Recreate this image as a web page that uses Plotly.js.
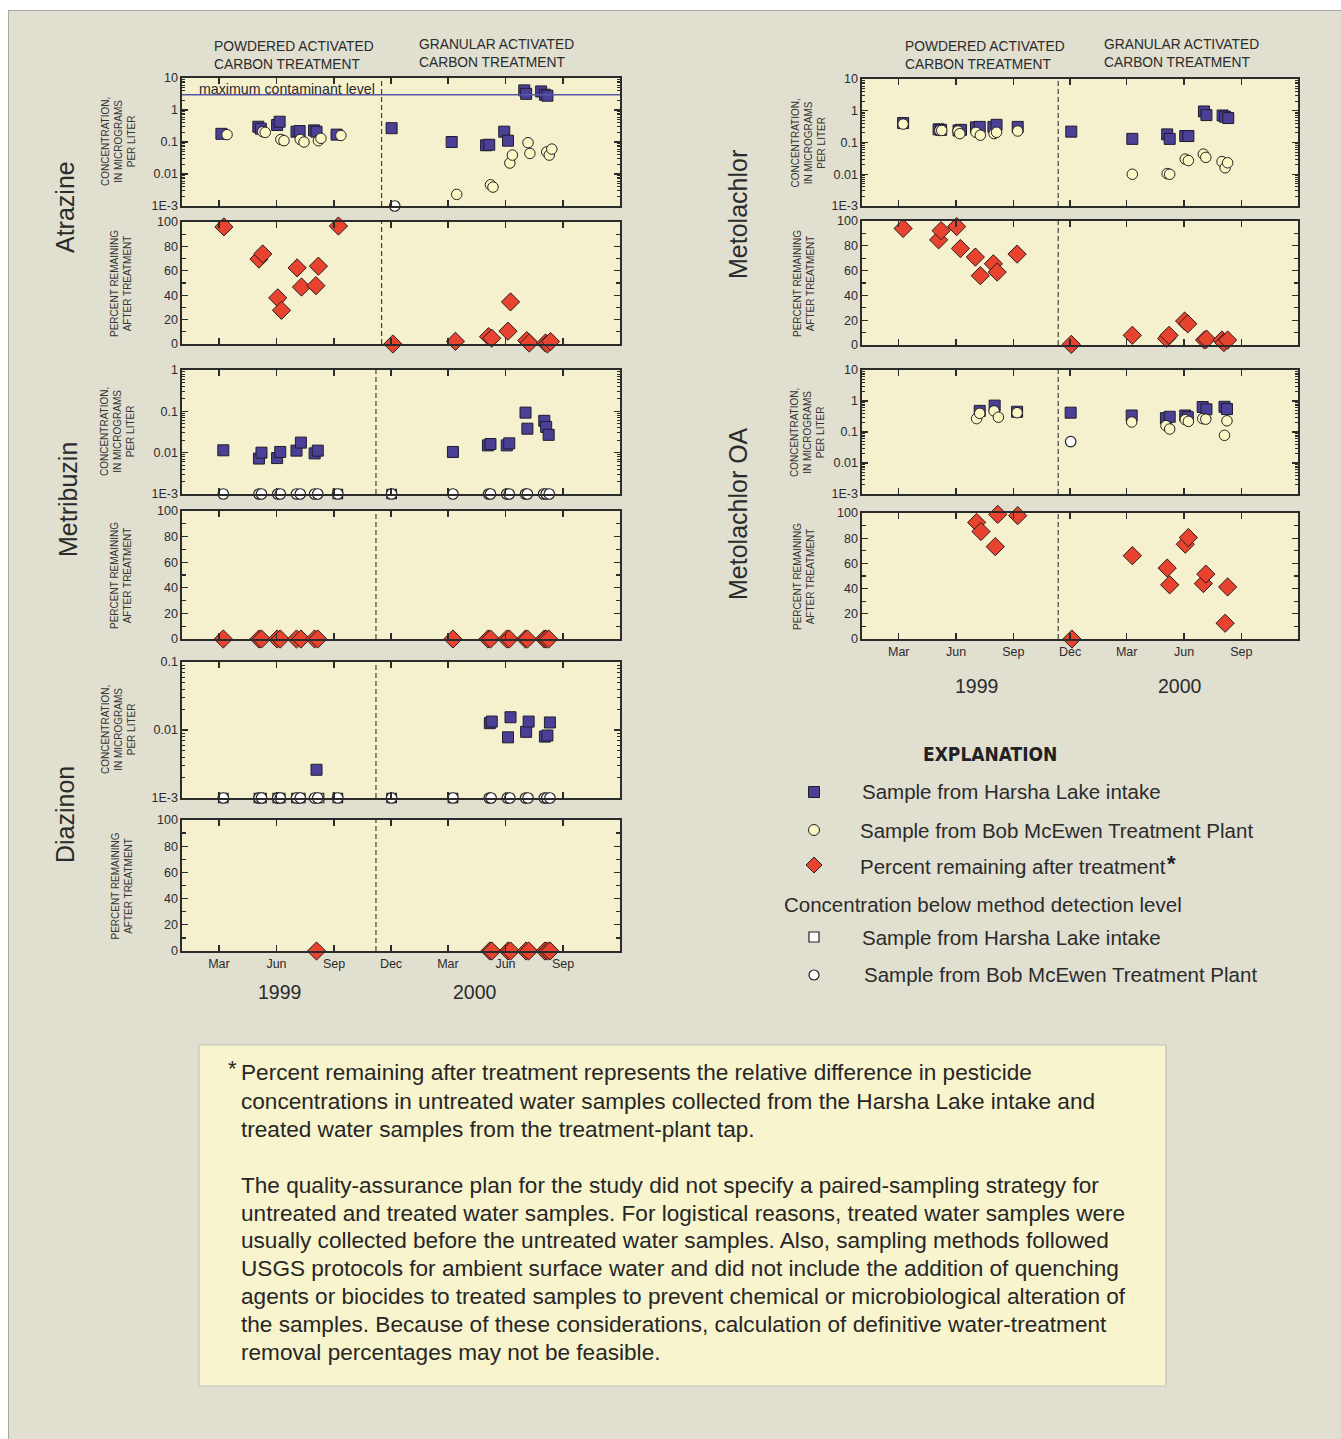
<!DOCTYPE html>
<html>
<head>
<meta charset="utf-8">
<script src="https://cdn.plot.ly/plotly-3.0.1.min.js"></script>
<style>html,body{margin:0;padding:0;background:#e1dfd0;}#chart{width:1341px;height:1439px;}</style>
</head>
<body>
<div id="chart"></div>
<script>
// ---------------- DATA ----------------
const monthTickVals = ['1999-03-01','1999-06-01','1999-09-01','1999-12-01','2000-03-01','2000-06-01','2000-09-01'];
const monthTickText = ['Mar','Jun','Sep','Dec','Mar','Jun','Sep'];
const logTickVals = [0.001, 0.01, 0.1, 1, 10];
const logTickText = ['1E-3', '0.01', '0.1', '1', '10'];
const atrazineMCL = 3;

// Atrazine
const atzHarshaDates = ['1999-03-05','1999-05-03','1999-05-07','1999-06-02','1999-06-06','1999-07-03','1999-07-08','1999-07-31','1999-08-04','1999-09-05','1999-12-02','2000-03-07','2000-05-01','2000-05-06','2000-05-30','2000-06-05','2000-07-01','2000-07-04','2000-07-28','2000-08-03','2000-08-07'];
const atzHarshaConc  = [0.18,0.30,0.26,0.34,0.43,0.21,0.22,0.23,0.21,0.17,0.27,0.10,0.079,0.082,0.21,0.11,4.1,3.2,3.8,3.0,2.8];
const atzPlantDates  = ['1999-03-14','1999-05-10','1999-05-14','1999-06-08','1999-06-13','1999-07-09','1999-07-15','1999-08-07','1999-08-11','1999-09-12','2000-03-15','2000-05-08','2000-05-12','2000-06-08','2000-06-12','2000-07-07','2000-07-10','2000-08-06','2000-08-10','2000-08-14'];
const atzPlantConc   = [0.17,0.21,0.20,0.12,0.11,0.12,0.10,0.11,0.13,0.16,0.0023,0.0046,0.0039,0.022,0.039,0.095,0.044,0.049,0.039,0.060];
const atzPlantBdlDates = ['1999-12-07'];
const atzPlantBdlConc  = [0.001];
const atzPctDates = ['1999-03-09','1999-05-04','1999-05-10','1999-06-03','1999-06-09','1999-07-04','1999-07-11','1999-08-03','1999-08-07','1999-09-08','1999-12-04','2000-03-13','2000-05-05','2000-05-10','2000-06-05','2000-06-09','2000-07-05','2000-07-09','2000-08-04','2000-08-07','2000-08-12'];
const atzPct      = [96,69.6,73.8,37.8,27.6,62.4,46.7,47.8,63.8,96.7,0,2.2,6,4.7,10.5,34.5,2.8,0.8,0.8,0,2];

// Metribuzin
const mbzHarshaDates = ['1999-03-08','1999-05-04','1999-05-08','1999-06-02','1999-06-07','1999-07-03','1999-07-10','1999-08-01','1999-08-06','2000-03-09','2000-05-04','2000-05-08','2000-06-03','2000-06-07','2000-07-03','2000-07-06','2000-08-02','2000-08-05','2000-08-09'];
const mbzHarshaConc  = [0.0114,0.0072,0.0100,0.0074,0.0104,0.0112,0.0175,0.0096,0.0112,0.0104,0.015,0.0162,0.015,0.0168,0.093,0.038,0.059,0.042,0.027];
const mbzHarshaBdlDates = ['1999-09-07','1999-12-02'];
const mbzHarshaBdlConc  = [0.001,0.001];
const mbzPlantBdlDates = ['1999-03-08','1999-05-04','1999-05-08','1999-06-03','1999-06-07','1999-07-03','1999-07-09','1999-08-01','1999-08-06','1999-09-07','1999-12-02','2000-03-09','2000-05-05','2000-05-08','2000-06-03','2000-06-07','2000-07-03','2000-07-06','2000-08-01','2000-08-05','2000-08-10'];
const mbzPlantBdlConc  = [0.001,0.001,0.001,0.001,0.001,0.001,0.001,0.001,0.001,0.001,0.001,0.001,0.001,0.001,0.001,0.001,0.001,0.001,0.001,0.001,0.001];
const mbzPctDates = ['1999-03-08','1999-05-04','1999-05-08','1999-06-02','1999-06-07','1999-07-03','1999-07-10','1999-08-01','1999-08-06','2000-03-09','2000-05-04','2000-05-08','2000-06-03','2000-06-07','2000-07-03','2000-07-06','2000-08-02','2000-08-05','2000-08-09'];
const mbzPct      = [0,0,0,0,0,0,0,0,0,0,0,0,0,0,0,0,0,0,0];

// Diazinon
const dzHarshaDates = ['1999-08-04','2000-05-07','2000-05-10','2000-06-05','2000-06-09','2000-07-04','2000-07-08','2000-08-03','2000-08-07','2000-08-11'];
const dzHarshaConc  = [0.0026,0.0126,0.0133,0.0078,0.0154,0.0094,0.0133,0.0080,0.0083,0.0129];
const dzHarshaBdlDates = ['1999-03-08','1999-05-04','1999-05-08','1999-06-03','1999-06-07','1999-07-03','1999-07-09','1999-08-08','1999-09-07','1999-12-02','2000-03-09'];
const dzHarshaBdlConc  = [0.001,0.001,0.001,0.001,0.001,0.001,0.001,0.001,0.001,0.001,0.001];
const dzPlantBdlDates = ['1999-03-08','1999-05-04','1999-05-08','1999-06-03','1999-06-07','1999-07-03','1999-07-09','1999-08-01','1999-08-06','1999-09-07','1999-12-02','2000-03-09','2000-05-06','2000-05-09','2000-06-04','2000-06-08','2000-07-03','2000-07-07','2000-08-02','2000-08-06','2000-08-11'];
const dzPlantBdlConc  = [0.001,0.001,0.001,0.001,0.001,0.001,0.001,0.001,0.001,0.001,0.001,0.001,0.001,0.001,0.001,0.001,0.001,0.001,0.001,0.001,0.001];
const dzPctDates = ['1999-08-04','2000-05-07','2000-05-10','2000-06-05','2000-06-09','2000-07-04','2000-07-08','2000-08-03','2000-08-07','2000-08-11'];
const dzPct      = [0,0,0,0,0,0,0,0,0,0];

// Metolachlor
const mtHarshaDates = ['1999-03-08','1999-05-04','1999-05-08','1999-06-05','1999-06-09','1999-07-03','1999-07-09','1999-07-31','1999-08-05','1999-09-08','1999-12-03','2000-03-10','2000-05-05','2000-05-09','2000-06-03','2000-06-08','2000-07-03','2000-07-07','2000-08-02','2000-08-06','2000-08-11'];
const mtHarshaConc  = [0.41,0.26,0.25,0.24,0.25,0.30,0.31,0.31,0.36,0.31,0.22,0.13,0.18,0.13,0.16,0.16,0.95,0.73,0.71,0.65,0.59];
const mtPlantDates  = ['1999-03-08','1999-05-06','1999-05-09','1999-06-04','1999-06-07','1999-07-03','1999-07-10','1999-08-01','1999-08-05','1999-09-08','2000-03-10','2000-05-05','2000-05-09','2000-06-03','2000-06-08','2000-07-02','2000-07-06','2000-08-01','2000-08-06','2000-08-10'];
const mtPlantConc   = [0.38,0.24,0.24,0.23,0.19,0.21,0.17,0.19,0.21,0.23,0.010,0.0105,0.010,0.030,0.027,0.043,0.034,0.025,0.016,0.023];
const mtPctDates = ['1999-03-08','1999-05-04','1999-05-08','1999-06-02','1999-06-08','1999-07-02','1999-07-10','1999-07-31','1999-08-06','1999-09-07','1999-12-03','2000-03-10','2000-05-04','2000-05-08','2000-06-02','2000-06-07','2000-07-04','2000-07-07','2000-08-01','2000-08-04','2000-08-10'];
const mtPct      = [94,84.8,92.2,95.5,77.8,70.9,55.9,65.5,58.8,73.3,0.5,7.8,5.3,7.8,19.3,17.1,4,4.8,4,1.9,4];

// Metolachlor OA
const oaHarshaDates = ['1999-07-09','1999-08-02','1999-09-07','1999-12-02','2000-03-09','2000-05-03','2000-05-09','2000-06-03','2000-06-07','2000-07-01','2000-07-07','2000-08-05','2000-08-09'];
const oaHarshaConc  = [0.48,0.71,0.45,0.42,0.34,0.28,0.31,0.34,0.30,0.64,0.54,0.65,0.55];
const oaPlantDates  = ['1999-07-04','1999-07-09','1999-08-01','1999-08-08','1999-09-07','2000-03-09','2000-05-03','2000-05-09','2000-06-03','2000-06-08','2000-07-01','2000-07-06','2000-08-05','2000-08-09'];
const oaPlantConc   = [0.27,0.40,0.48,0.30,0.42,0.21,0.16,0.125,0.25,0.22,0.27,0.26,0.078,0.23];
const oaPlantBdlDates = ['1999-12-02'];
const oaPlantBdlConc  = [0.049];
const oaPctDates = ['1999-07-04','1999-07-11','1999-08-03','1999-08-07','1999-09-08','1999-12-04','2000-03-10','2000-05-05','2000-05-09','2000-06-03','2000-06-08','2000-07-02','2000-07-06','2000-08-06','2000-08-10'];
const oaPct      = [92.5,85.3,73.3,98.9,97.9,0,66.1,56.3,43,75.2,80.5,44,51.5,12.5,41.3];

const treatmentChange = {left1:'1999-11-16', left:'1999-11-07', right:'1999-11-12'};

// ---------------- LAYOUT HELPERS ----------------
const W = 1341, H = 1439;
const fx = x => x / W;
const fy = y => 1 - y / H;
const FONT = 'Liberation Sans, Arial, Helvetica, sans-serif';
const INK = '#2b2b2b';

const sqStyle   = {symbol:'square', size:11, color:'#4b3f96', line:{color:'#1e1e2e', width:1}};
const ciStyle   = {symbol:'circle', size:10.5, color:'#fbf8c6', line:{color:'#222', width:1}};
const diStyle   = {symbol:'diamond', size:14, color:'#e8432f', line:{color:'#2a1a1a', width:1}};
const bdlSq     = {symbol:'square', size:9.5, color:'#ffffff', line:{color:'#222', width:1.2}};
const bdlCi     = {symbol:'circle', size:10.5, color:'#ffffff', line:{color:'#222', width:1.2}};

const traces = [];
function add(ax, dates, vals, marker) {
  traces.push({type:'scatter', mode:'markers', x:dates, y:vals, xaxis:'x'+ax, yaxis:'y'+ax,
    marker:marker, cliponaxis:false, showlegend:false, hoverinfo:'x+y'});
}

const LEFT = [182, 620], RIGHT = [862, 1298];
const panels = {
  '':   {col:LEFT,  t:78,  b:206, kind:'log', range:[-3,1]},
  '2':  {col:LEFT,  t:222, b:344, kind:'pct'},
  '3':  {col:LEFT,  t:370, b:494, kind:'log', range:[-3,0]},
  '4':  {col:LEFT,  t:511, b:639, kind:'pct'},
  '5':  {col:LEFT,  t:662, b:798, kind:'log', range:[-3,-1]},
  '6':  {col:LEFT,  t:820, b:951, kind:'pct', labels:true},
  '7':  {col:RIGHT, t:79,  b:206, kind:'log', range:[-3,1]},
  '8':  {col:RIGHT, t:221, b:345, kind:'pct'},
  '9':  {col:RIGHT, t:370, b:494, kind:'log', range:[-3,1]},
  '10': {col:RIGHT, t:513, b:639, kind:'pct', labels:true}
};

add('',  atzHarshaDates, atzHarshaConc, sqStyle);
add('',  atzPlantBdlDates, atzPlantBdlConc, bdlCi);
add('',  atzPlantDates, atzPlantConc, ciStyle);
add('2', atzPctDates, atzPct, diStyle);
add('3', mbzHarshaDates, mbzHarshaConc, sqStyle);
add('3', mbzHarshaBdlDates, mbzHarshaBdlConc, bdlSq);
add('3', mbzPlantBdlDates, mbzPlantBdlConc, bdlCi);
add('4', mbzPctDates, mbzPct, diStyle);
add('5', dzHarshaDates, dzHarshaConc, sqStyle);
add('5', dzHarshaBdlDates, dzHarshaBdlConc, bdlSq);
add('5', dzPlantBdlDates, dzPlantBdlConc, bdlCi);
add('6', dzPctDates, dzPct, diStyle);
add('7', mtHarshaDates, mtHarshaConc, sqStyle);
add('7', mtPlantDates, mtPlantConc, ciStyle);
add('8', mtPctDates, mtPct, diStyle);
add('9', oaHarshaDates, oaHarshaConc, sqStyle);
add('9', oaPlantDates, oaPlantConc, ciStyle);
add('9', oaPlantBdlDates, oaPlantBdlConc, bdlCi);
add('10', oaPctDates, oaPct, diStyle);

const layout = {
  width: W, height: H, autosize:false,
  margin:{l:0, r:0, t:0, b:0},
  paper_bgcolor:'#e1dfd0', plot_bgcolor:'#f5f0cd',
  font:{family:FONT, color:INK, size:12},
  showlegend:false,
  shapes:[], annotations:[]
};

Object.keys(panels).forEach(id => {
  const p = panels[id];
  const xa = {
    type:'date', range:['1999-01-01','2000-12-01'],
    domain:[fx(p.col[0]), fx(p.col[1])],
    anchor:'y'+id, tickmode:'array', tickvals:monthTickVals, ticktext:monthTickText,
    showticklabels:!!p.labels, ticks:'inside', ticklen:6, tickwidth:1.3, tickcolor:INK,
    showline:true, linecolor:INK, linewidth:1.6, mirror:'allticks',
    showgrid:false, zeroline:false, fixedrange:true,
    tickfont:{size:12.5, color:INK, family:FONT}
  };
  const ya = {
    domain:[fy(p.b), fy(p.t)], anchor:'x'+id,
    ticks:'inside', ticklen:6, tickwidth:1.3, tickcolor:INK,
    showline:true, linecolor:INK, linewidth:1.6, mirror:'allticks',
    showgrid:false, zeroline:false, fixedrange:true,
    tickfont:{size:12.5, color:INK, family:FONT}
  };
  if (p.kind === 'log') {
    Object.assign(ya, {type:'log', range:p.range, tickmode:'array',
      tickvals:logTickVals, ticktext:logTickText,
      minor:{ticks:'inside', ticklen:3, tickcolor:INK, tickwidth:1, dtick:'D1', showgrid:false}});
  } else {
    Object.assign(ya, {type:'linear', range:[0,100], tickmode:'linear', tick0:0, dtick:20,
      minor:{ticks:'inside', ticklen:4, tickcolor:INK, tickwidth:1.3, dtick:10, showgrid:false}});
  }
  layout['xaxis'+id] = xa;
  layout['yaxis'+id] = ya;

  const d = p.col === RIGHT ? treatmentChange.right : (id === '' || id === '2' ? treatmentChange.left1 : treatmentChange.left);
  layout.shapes.push({type:'line', xref:'x'+id, yref:'y'+id+' domain', x0:d, x1:d, y0:0, y1:1,
    line:{color:'#333', width:1.1, dash:'5px,3px'}, layer:'above'});

  const cx = p.col === LEFT ? (p.kind==='log'?118:121) : (p.kind==='log'?808:804);
  layout.annotations.push({xref:'paper', yref:'paper', x:fx(cx), y:fy((p.t+p.b)/2),
    xanchor:'center', yanchor:'middle', textangle:-90, showarrow:false,
    text: p.kind==='log' ? 'CONCENTRATION,<br>IN MICROGRAMS<br>PER LITER' : 'PERCENT REMAINING<br>AFTER TREATMENT',
    font:{size:10, color:'#333', family:FONT}});
});

// MCL line on atrazine
layout.shapes.push({type:'line', xref:'x domain', yref:'y', x0:0, x1:1, y0:atrazineMCL, y1:atrazineMCL,
  line:{color:'#5a58a6', width:1.5}, layer:'above'});

function txt(x, y, t, size, extra) {
  layout.annotations.push(Object.assign({xref:'paper', yref:'paper', x:fx(x), y:fy(y), xanchor:'left', yanchor:'middle',
    showarrow:false, text:t, font:{size:size, color:INK, family:FONT}}, extra||{}));
}
txt(197, 89, 'maximum contaminant level', 14.2);

// frame
layout.shapes.push({type:'rect', xref:'paper', yref:'paper', x0:0, x1:fx(8), y0:0, y1:1, fillcolor:'#ffffff', line:{width:0}, layer:'below'});
layout.shapes.push({type:'rect', xref:'paper', yref:'paper', x0:0, x1:1, y0:fy(10), y1:1, fillcolor:'#ffffff', line:{width:0}, layer:'below'});
layout.shapes.push({type:'line', xref:'paper', yref:'paper', x0:fx(8.5), x1:fx(8.5), y0:0, y1:fy(10), line:{color:'#a8a8a0', width:1}});
layout.shapes.push({type:'line', xref:'paper', yref:'paper', x0:fx(8.5), x1:1, y0:fy(10.5), y1:fy(10.5), line:{color:'#a8a8a0', width:1}});

// headers
txt(212, 55, 'POWDERED ACTIVATED<br>CARBON TREATMENT', 13.8, {align:'left'});
txt(417, 54, 'GRANULAR ACTIVATED<br>CARBON TREATMENT', 13.8, {align:'left'});
txt(903, 55, 'POWDERED ACTIVATED<br>CARBON TREATMENT', 13.8, {align:'left'});
txt(1102, 54, 'GRANULAR ACTIVATED<br>CARBON TREATMENT', 13.8, {align:'left'});

function vname(x, y, t) {
  layout.annotations.push({xref:'paper', yref:'paper', x:fx(x), y:fy(y), xanchor:'center', yanchor:'middle',
    textangle:-90, showarrow:false, text:t, font:{size:25, color:INK, family:FONT}});
}
vname(65, 207, 'Atrazine');
vname(68, 500, 'Metribuzin');
vname(65, 815, 'Diazinon');
vname(738, 215, 'Metolachlor');
vname(738, 514, 'Metolachlor OA');

txt(279, 992, '1999', 19.5, {xanchor:'center'});
txt(475, 992, '2000', 19.5, {xanchor:'center'});
txt(976, 686, '1999', 19.5, {xanchor:'center'});
txt(1180, 686, '2000', 19.5, {xanchor:'center'});

// explanation
txt(990, 754, '<b>EXPLANATION</b>', 19, {xanchor:'center', font:{size:19, color:'#222', family:'DejaVu Sans Condensed, Liberation Sans Narrow, Arial Narrow, sans-serif'}});
const legRows = [
  [792, 'Sample from Harsha Lake intake', 860],
  [830, 'Sample from Bob McEwen Treatment Plant', 858],
  [867, 'Percent remaining after treatment', 858],
  [904, 'Concentration below method detection level', 782],
  [937, 'Sample from Harsha Lake intake', 860],
  [975, 'Sample from Bob McEwen Treatment Plant', 862]
];
legRows.forEach(r => txt(r[2], r[0], r[1], 20.5));
txt(1165, 864, '<b>*</b>', 22, {font:{size:22, color:'#222', family:FONT}});
const sx = 814;
function pbox(x0, y0, x1, y1) { return {x0:fx(x0), x1:fx(x1), y0:fy(y1), y1:fy(y0)}; }
layout.shapes.push(Object.assign({type:'rect', xref:'paper', yref:'paper', fillcolor:'#4b3f96', line:{color:'#222', width:1}}, pbox(sx-5.5, 786.5, sx+5.5, 797.5)));
layout.shapes.push(Object.assign({type:'circle', xref:'paper', yref:'paper', fillcolor:'#fbf8c6', line:{color:'#222', width:1}}, pbox(sx-5.5, 824.5, sx+5.5, 835.5)));
layout.shapes.push({type:'path', xref:'paper', yref:'paper', fillcolor:'#e8432f', line:{color:'#222', width:1},
  path:`M ${fx(sx)} ${fy(857)} L ${fx(sx+8)} ${fy(865)} L ${fx(sx)} ${fy(873)} L ${fx(sx-8)} ${fy(865)} Z`});
layout.shapes.push(Object.assign({type:'rect', xref:'paper', yref:'paper', fillcolor:'#ffffff', line:{color:'#222', width:1.2}}, pbox(sx-5, 932, sx+5, 942)));
layout.shapes.push(Object.assign({type:'circle', xref:'paper', yref:'paper', fillcolor:'#ffffff', line:{color:'#222', width:1.2}}, pbox(sx-5, 970, sx+5, 980)));

// note box
layout.shapes.push(Object.assign({type:'rect', xref:'paper', yref:'paper', fillcolor:'#f8f4cd', line:{color:'#c4c4bb', width:1.2}, layer:'below'}, pbox(199, 1045, 1166, 1386)));
const noteLines = [
  [1072, 'Percent remaining after treatment represents the relative difference in pesticide'],
  [1101, 'concentrations in untreated water samples collected from the Harsha Lake intake and'],
  [1129, 'treated water samples from the treatment-plant tap.'],
  [1185, 'The quality-assurance plan for the study did not specify a paired-sampling strategy for'],
  [1213, 'untreated and treated water samples. For logistical reasons, treated water samples were'],
  [1240, 'usually collected before the untreated water samples. Also, sampling methods followed'],
  [1268, 'USGS protocols for ambient surface water and did not include the addition of quenching'],
  [1296, 'agents or biocides to treated samples to prevent chemical or microbiological alteration of'],
  [1324, 'the samples. Because of these considerations, calculation of definitive water-treatment'],
  [1352, 'removal percentages may not be feasible.']
];
noteLines.forEach(l => txt(239, l[0], l[1], 22.6, {font:{size:22.6, color:'#262626', family:FONT}}));
txt(226, 1068, '*', 22, {font:{size:22, color:'#262626', family:FONT}});

Plotly.newPlot('chart', traces, layout, {staticPlot:true, displayModeBar:false});
</script>
</body>
</html>
